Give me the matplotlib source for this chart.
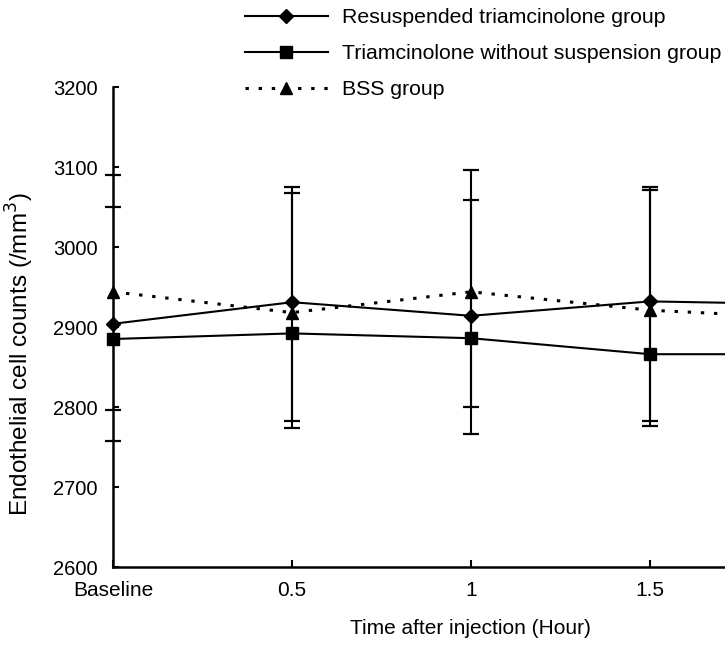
import matplotlib
matplotlib.use("Agg")
import matplotlib.pyplot as plt
from matplotlib.lines import Line2D
import numpy as np

plt.rcParams['font.family'] = ['Liberation Sans', 'DejaVu Sans']

# ---- data ----
time_labels = ["Baseline", "0.5", "1", "1.5", "2"]
time_values = [0, 0.5, 1, 1.5, 2]

resuspended = [2904, 2931, 2914, 2932, 2928]
resuspended_err_up = [146, 144, 145, 143, 145]
resuspended_err_low = [146, 149, 148, 150, 148]

without_susp = [2885, 2892, 2886, 2866, 2866]

bss = [2944, 2918, 2944, 2921, 2910]
bss_err_up = [146, 150, 152, 150, 150]
bss_err_low = [148, 144, 144, 145, 148]

series_names = ["Resuspended triamcinolone group",
                "Triamcinolone without suspension group",
                "BSS group"]

W, H = 725, 645
fig = plt.figure(figsize=(W / 100, H / 100), dpi=100)
ax = fig.add_axes([113 / W, 78 / H, (W - 113) / W, 480 / H])

lw = 1.5
ekw = dict(ecolor='black', elinewidth=1.5, capsize=5.5, capthick=1.6)

# error bars
ax.errorbar(time_values, resuspended,
            yerr=[resuspended_err_low, resuspended_err_up],
            fmt='none', clip_on=False, zorder=2, **ekw)
ax.errorbar(time_values, bss, yerr=[bss_err_low, bss_err_up],
            fmt='none', clip_on=False, zorder=2, **ekw)

# lines
ax.plot(time_values, resuspended, color='black', lw=lw, marker='D',
        markersize=7.5, zorder=4)
ax.plot(time_values, without_susp, color='black', lw=lw, marker='s',
        markersize=8.5, zorder=4)
ax.plot(time_values, bss, color='black', lw=2.2, linestyle=(0, (1.1, 3.2)),
        marker='^', markersize=9, zorder=4)

ax.set_yticks(np.arange(2600, 3201, 100))
ax.set_xticks(time_values)
ax.set_xticklabels(time_labels)
ax.set_ylim(2600, 3200)
ax.set_xlim(0, 1.709)

# keep baseline markers visible over the spine
for ln in ax.lines:
    ln.set_clip_on(False)
for coll in ax.collections:
    coll.set_clip_on(True)

for s in ['top', 'right']:
    ax.spines[s].set_visible(False)
for s in ['left', 'bottom']:
    ax.spines[s].set_linewidth(1.8)
    ax.spines[s].set_color('black')

ax.tick_params(axis='y', direction='in', length=4, width=1.5,
               labelsize=14.5, pad=11)
ax.tick_params(axis='x', direction='in', length=5, width=1.5,
               labelsize=15, pad=10)

fig.text(20 / W, 1 - 354 / H, "Endothelial cell counts (/mm$^3$)",
         rotation=90, ha='center', va='center', fontsize=17.5)
fig.text(470 / W, 1 - 628 / H, "Time after injection (Hour)",
         ha='center', va='center', fontsize=15)

handles = [
    Line2D([], [], color='black', lw=lw, marker='D', markersize=7.5),
    Line2D([], [], color='black', lw=lw, marker='s', markersize=8.5),
    Line2D([], [], color='black', lw=2.2, linestyle=(0, (1.1, 3.2)),
           marker='^', markersize=9),
]
fig.legend(handles, series_names, loc='upper left',
           bbox_to_anchor=(245 / W, 1 - 8 / H), frameon=False,
           fontsize=15.3, numpoints=1, handlelength=3.9,
           handletextpad=0.65, labelspacing=0.8, borderpad=0,
           borderaxespad=0)

fig.savefig("out.png", dpi=100)
